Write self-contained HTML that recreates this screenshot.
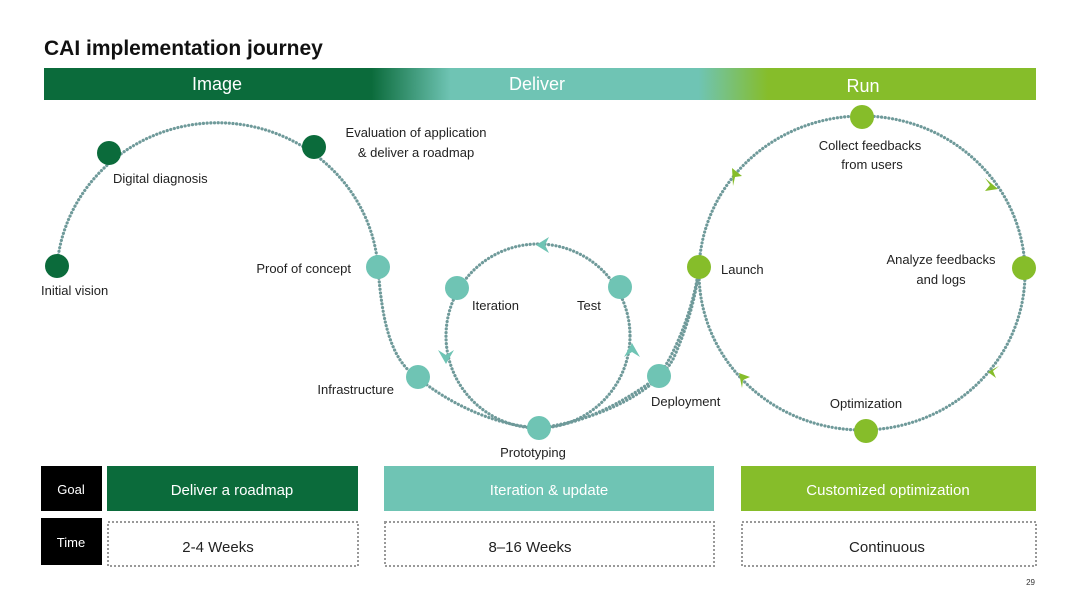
<!DOCTYPE html>
<html><head><meta charset="utf-8"><style>
body{margin:0;width:1080px;height:607px;background:#fff;overflow:hidden;font-family:"Liberation Sans",sans-serif;}
svg{position:absolute;left:0;top:0}
</style></head><body>
<svg width="1080" height="607" viewBox="0 0 1080 607" font-family="Liberation Sans, sans-serif">
<defs>
<linearGradient id="hg" x1="44" x2="1036" y1="0" y2="0" gradientUnits="userSpaceOnUse">
<stop offset="0" stop-color="#0b6b3b"/>
<stop offset="0.33" stop-color="#0b6b3b"/>
<stop offset="0.41" stop-color="#6fc4b4"/>
<stop offset="0.66" stop-color="#6fc4b4"/>
<stop offset="0.73" stop-color="#86bd2a"/>
<stop offset="1" stop-color="#86bd2a"/>
</linearGradient>
</defs>
<text x="44" y="55" font-size="21" font-weight="bold" fill="#111">CAI implementation journey</text>
<rect x="44" y="68" width="992" height="32" fill="url(#hg)"/>
<text x="217" y="90" font-size="18" fill="#fff" text-anchor="middle">Image</text>
<text x="537" y="90" font-size="18" fill="#fff" text-anchor="middle">Deliver</text>
<text x="863" y="92" font-size="18" fill="#fff" text-anchor="middle">Run</text>

<g fill="none" stroke="#6f9a9a" stroke-width="3.2" stroke-dasharray="0.1 3.6" stroke-linecap="round">
<path d="M57 266 A161 156 0 0 1 378 267"/>
<path d="M378 267 C382 320 390 360 418 378 C445 400 490 425 539 428"/>
<circle cx="538" cy="336" r="92"/>
<path d="M539 428 C580 425 620 405 659 376"/>
<path d="M539 428 C600 420 660 390 675 355 C690 320 697 290 699 267"/>
<path d="M659 376 C680 345 695 300 699 267"/>
<ellipse cx="862" cy="273" rx="163" ry="157"/>
</g>

<g fill="#0b6b3b">
<circle cx="57" cy="266" r="12"/><circle cx="109" cy="153" r="12"/><circle cx="314" cy="147" r="12"/>
</g>
<g fill="#6fc4b4">
<circle cx="378" cy="267" r="12"/><circle cx="418" cy="377" r="12"/><circle cx="539" cy="428" r="12"/>
<circle cx="457" cy="288" r="12"/><circle cx="620" cy="287" r="12"/><circle cx="659" cy="376" r="12"/>
</g>
<g fill="#86bd2a">
<circle cx="699" cy="267" r="12"/><circle cx="862" cy="117" r="12"/><circle cx="1024" cy="268" r="12"/><circle cx="866" cy="431" r="12"/>
</g>

<g fill="#6fc4b4">
<polygon points="536,245 549,237 545,245 549,253"/>
<polygon points="446,364 438,350 446,355 454,350"/>
<polygon points="632,343 624,357 632,352 640,357"/>
</g>
<g fill="#86bd2a">
<polygon points="732,168 742,176 735,177 733,186"/>
<polygon points="998,189 985,191 990,185 985,178"/>
<polygon points="988,372 999,366 993,371 996,378"/>
<polygon points="739,373 750,377 743,380 742,388"/>
</g>

<g font-size="13" fill="#222">
<text x="41" y="295">Initial vision</text>
<text x="113" y="183">Digital diagnosis</text>
<text x="416" y="137" text-anchor="middle">Evaluation of application</text>
<text x="416" y="157" text-anchor="middle">&amp; deliver a roadmap</text>
<text x="351" y="273" text-anchor="end">Proof of concept</text>
<text x="394" y="394" text-anchor="end">Infrastructure</text>
<text x="472" y="310">Iteration</text>
<text x="577" y="310">Test</text>
<text x="533" y="457" text-anchor="middle">Prototyping</text>
<text x="651" y="406">Deployment</text>
<text x="721" y="274">Launch</text>
<text x="870" y="150" text-anchor="middle">Collect feedbacks</text>
<text x="872" y="169" text-anchor="middle">from users</text>
<text x="941" y="264" text-anchor="middle">Analyze feedbacks</text>
<text x="941" y="284" text-anchor="middle">and logs</text>
<text x="866" y="408" text-anchor="middle">Optimization</text>
</g>

<rect x="41" y="466" width="61" height="45" fill="#000"/>
<rect x="41" y="518" width="61" height="47" fill="#000"/>
<text x="71" y="494" font-size="13" fill="#fff" text-anchor="middle">Goal</text>
<text x="71" y="547" font-size="13" fill="#fff" text-anchor="middle">Time</text>
<rect x="107" y="466" width="251" height="45" fill="#0b6b3b"/>
<rect x="384" y="466" width="330" height="45" fill="#6fc4b4"/>
<rect x="741" y="466" width="295" height="45" fill="#86bd2a"/>
<text x="232" y="495" font-size="15" fill="#fff" text-anchor="middle">Deliver a roadmap</text>
<text x="549" y="495" font-size="15" fill="#fff" text-anchor="middle">Iteration &amp; update</text>
<text x="888" y="495" font-size="15" fill="#fff" text-anchor="middle">Customized optimization</text>
<g fill="none" stroke="#999" stroke-width="2" stroke-dasharray="2 2">
<rect x="108" y="522" width="250" height="44"/>
<rect x="385" y="522" width="329" height="44"/>
<rect x="742" y="522" width="294" height="44"/>
</g>
<g font-size="15" fill="#222" text-anchor="middle">
<text x="218" y="552">2-4 Weeks</text>
<text x="530" y="552">8–16 Weeks</text>
<text x="887" y="552">Continuous</text>
</g>
<text x="1035" y="585" font-size="8" fill="#333" text-anchor="end">29</text>
</svg>
</body></html>
